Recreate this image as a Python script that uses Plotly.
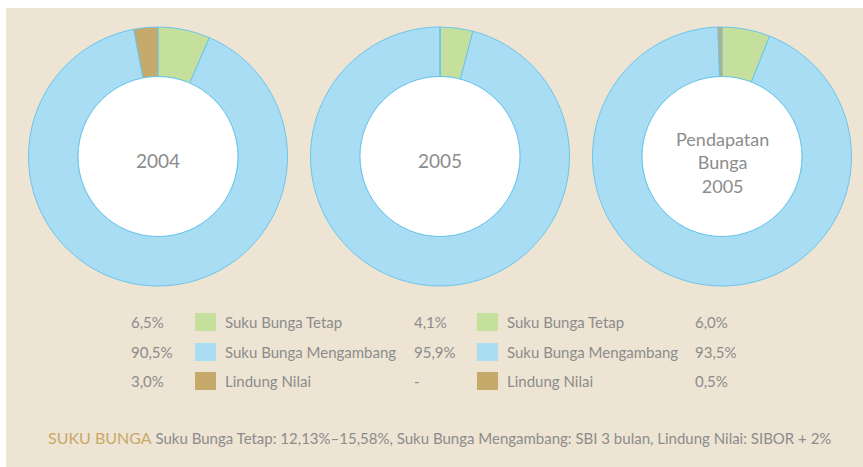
import plotly.graph_objects as go

# ---------------- data ----------------
categories = ["Suku Bunga Tetap", "Suku Bunga Mengambang", "Lindung Nilai"]
chart_titles = ["2004", "2005", "Pendapatan<br>Bunga<br>2005"]
values_2004 = [6.5, 90.5, 3.0]
values_2005 = [4.1, 95.9, 0.0]
values_pendapatan_2005 = [6.0, 93.5, 0.5]
series = [values_2004, values_2005, values_pendapatan_2005]
footer_title = "SUKU BUNGA"
footer_text = ("Suku Bunga Tetap: 12,13%–15,58%, Suku Bunga Mengambang: SBI 3 bulan, "
               "Lindung Nilai: SIBOR + 2%")

# ---------------- style ----------------
W, H = 863, 467
BG = "#ede4d3"
COLORS = ["#c5df9c", "#a9ddf4", "#c6aa6b"]
EDGE = "#6cc5ec"
TEXT = "#8c8c8c"
GOLD = "#c9a868"
FONT = "Lato"

centers_x = [158, 440, 722]
center_y = 156.5
R = 129.5
R_HOLE = 80
title_offsets = [4, 4, 6]
title_sizes = [19, 19, 18]


def px_x(x):
    return x / W


def px_y(y):
    return 1 - y / H


def fmt(v):
    return "-" if v == 0 else f"{v:.1f}%".replace(".", ",")


fig = go.Figure()

for cx, vals in zip(centers_x, series):
    fig.add_trace(go.Pie(
        labels=categories, values=vals, sort=False, direction="clockwise",
        rotation=0, hole=R_HOLE / R, textinfo="none", showlegend=False,
        marker=dict(colors=COLORS, line=dict(color=EDGE, width=1)),
        domain=dict(x=[px_x(cx - R), px_x(cx + R)],
                    y=[px_y(center_y + R), px_y(center_y - R)]),
        hoverinfo="label+percent",
    ))

shapes = [dict(type="rect", xref="paper", yref="paper", x0=px_x(6), x1=1,
               y0=0, y1=px_y(8), fillcolor=BG, line=dict(width=0), layer="below")]
for cx in centers_x:
    shapes.append(dict(type="circle", xref="paper", yref="paper",
                       x0=px_x(cx - R_HOLE), x1=px_x(cx + R_HOLE),
                       y0=px_y(center_y + R_HOLE), y1=px_y(center_y - R_HOLE),
                       fillcolor="white", line=dict(color=EDGE, width=1), layer="above"))

annotations = []
for cx, t, off, sz in zip(centers_x, chart_titles, title_offsets, title_sizes):
    annotations.append(dict(x=px_x(cx), y=px_y(center_y + off), xref="paper", yref="paper",
                            text=t, showarrow=False, xanchor="center", yanchor="middle",
                            font=dict(family=FONT, size=sz, color=TEXT)))

row_y = [322, 352, 381]
value_cols_x = [129, 412, 693]
swatch_cols_x = [195, 477]
label_cols_x = [223, 505]
legend_font = dict(family=FONT, size=15, color=TEXT)

for i, ry in enumerate(row_y):
    for vx, vals in zip(value_cols_x, series):
        annotations.append(dict(x=px_x(vx), y=px_y(ry), xref="paper", yref="paper",
                                text=fmt(vals[i]), showarrow=False, xanchor="left",
                                yanchor="middle", font=legend_font))
    for sx, lx in zip(swatch_cols_x, label_cols_x):
        shapes.append(dict(type="rect", xref="paper", yref="paper",
                           x0=px_x(sx), x1=px_x(sx + 21),
                           y0=px_y(ry + 9), y1=px_y(ry - 9),
                           fillcolor=COLORS[i], line=dict(width=0), layer="above"))
        annotations.append(dict(x=px_x(lx), y=px_y(ry), xref="paper", yref="paper",
                                text=categories[i], showarrow=False, xanchor="left",
                                yanchor="middle", font=legend_font))

annotations.append(dict(
    x=px_x(46), y=px_y(437), xref="paper", yref="paper", showarrow=False,
    xanchor="left", yanchor="middle",
    text=f"<span style='color:{GOLD};font-size:16px'>{footer_title}</span> {footer_text}",
    font=dict(family=FONT, size=15, color=TEXT)))

fig.update_layout(
    width=W, height=H, autosize=False,
    margin=dict(l=0, r=0, t=0, b=0),
    paper_bgcolor="white", plot_bgcolor="white",
    shapes=shapes, annotations=annotations,
)

fig.write_html("out.html",
               config={"displayModeBar": False},
               post_script="document.body.style.margin='0';document.body.style.overflow='hidden';")
